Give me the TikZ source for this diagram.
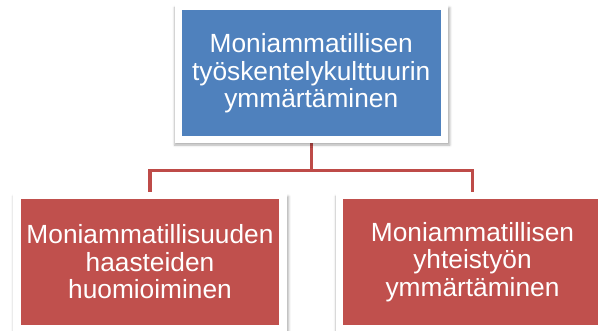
\documentclass[tikz,border=0pt]{standalone}
\usepackage{fontspec}
\setmainfont{Liberation Sans}
\usetikzlibrary{shadows.blur,backgrounds}

\definecolor{kulttuurisin}{HTML}{4F81BD}
\definecolor{haastepuna}{HTML}{C0504D}
\definecolor{linkkipuna}{HTML}{BE4B48}

\begin{document}
\begin{tikzpicture}[x=1pt, y=-1pt,
  laatikko/.style={draw=white, line width=7.5pt, minimum width=266pt, minimum height=133pt,
    inner sep=0pt, align=center, text=white, font=\fontsize{26.3}{27.5}\selectfont,
    blur shadow={shadow xshift=1pt, shadow yshift=-3pt, shadow scale=1.035, shadow opacity=30}},
  linkki/.style={draw=linkkipuna, line width=3.3pt}]

\useasboundingbox (0,0) rectangle (598,331);

% Top box
\node[laatikko, fill=kulttuurisin] (kulttuuri) at (311.25,73.25)
  {Moniammatillisen\\työskentelykulttuurin\\ymmärtäminen};

% Lower boxes
\node[laatikko, fill=haastepuna] (haasteet) at (150,262)
  {Moniammatillisuuden\\haasteiden\\huomioiminen};
\node[laatikko, fill=haastepuna] (yhteistyo) at (472.5,262)
  {Moniammatillisen\\yhteistyön\\ymmärtäminen};

% Connectors behind the boxes
\begin{scope}[on background layer]
\coordinate (haara) at ([yshift=-27pt]kulttuuri.south);
\draw[linkki] (kulttuuri.south) -- (haara) -| (haasteet.north);
\draw[linkki] (haara) -| (yhteistyo.north);
\end{scope}

\end{tikzpicture}
\end{document}
